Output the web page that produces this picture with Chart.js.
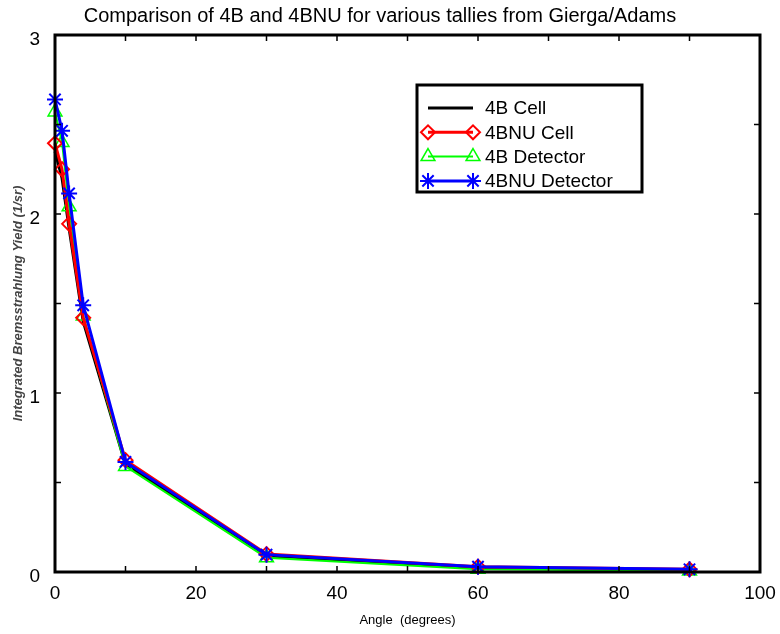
<!DOCTYPE html>
<html>
<head>
<meta charset="utf-8">
<script src="https://cdn.jsdelivr.net/npm/chart.js@4.4.1/dist/chart.umd.min.js"></script>
<style>
  html, body { margin: 0; padding: 0; background: #fff; }
  #wrap { width: 780px; height: 634px; }
</style>
</head>
<body>
<div id="wrap"><canvas id="chart" width="780" height="634"></canvas></div>
<script>
// angle (degrees) of each tally
const angles = [0, 1, 2, 4, 10, 30, 60, 90];
// integrated bremsstrahlung yield per tally
const cell4B = [2.35, 2.20, 1.92, 1.40, 0.60, 0.090, 0.025, 0.010];
const cell4BNU = [2.395, 2.25, 1.945, 1.42, 0.625, 0.100, 0.030, 0.015];
const det4B = [2.57, 2.40, 2.04, 1.43, 0.59, 0.080, 0.015, 0.005];
const det4BNU = [2.64, 2.465, 2.115, 1.49, 0.615, 0.097, 0.030, 0.015];

const seriesNames = ['4B Cell', '4BNU Cell', '4B Detector', '4BNU Detector'];
const xLabelTicks = [0, 20, 40, 60, 80, 100];
const yLabelTicks = [0, 1, 2, 3];

const FONT = "'Liberation Sans', Arial, Helvetica, sans-serif";

const pts = arr => arr.map((v, i) => ({ x: angles[i], y: v }));

// legend entries share the dataset look
const looks = [
  { color: '#000000', width: 3, style: false, r: 0, bw: 0 },
  { color: '#ff0000', width: 3, style: 'rectRot', r: 7, bw: 2 },
  { color: '#00ff00', width: 2, style: 'triangle', r: 8, bw: 1.5 },
  { color: '#0000ff', width: 3, style: 'star', r: 8, bw: 2 }
];
const values = [cell4B, cell4BNU, det4B, det4BNU];
const drawOrder = [3, 1, 2, 0]; // blue on top, black underneath

const datasets = values.map((v, i) => ({
  label: seriesNames[i],
  data: pts(v),
  borderColor: looks[i].color,
  backgroundColor: 'rgba(0,0,0,0)',
  borderWidth: looks[i].width,
  pointStyle: looks[i].style,
  pointRadius: looks[i].r,
  pointBorderWidth: looks[i].bw,
  pointBorderColor: looks[i].color,
  pointBackgroundColor: 'rgba(0,0,0,0)',
  tension: 0,
  clip: false,
  order: drawOrder[i]
}));

// box round the plot and inward tick marks on all four sides
const frameTicks = {
  id: 'frameTicks',
  afterDatasetsDraw(chart) {
    const { ctx, chartArea: a, scales: { x, y } } = chart;
    ctx.save();
    ctx.strokeStyle = '#000';
    ctx.lineWidth = 1.5;
    ctx.beginPath();
    x.ticks.forEach(t => {
      const px = x.getPixelForValue(t.value);
      ctx.moveTo(px, a.bottom); ctx.lineTo(px, a.bottom - 6);
      ctx.moveTo(px, a.top); ctx.lineTo(px, a.top + 6);
    });
    y.ticks.forEach(t => {
      const py = y.getPixelForValue(t.value);
      ctx.moveTo(a.left, py); ctx.lineTo(a.left + 6, py);
      ctx.moveTo(a.right, py); ctx.lineTo(a.right - 6, py);
    });
    ctx.stroke();
    ctx.lineWidth = 3;
    ctx.strokeRect(a.left, a.top, a.right - a.left, a.bottom - a.top);
    ctx.restore();
  }
};

// boxed legend inside the plot, top right
const boxLegend = {
  id: 'boxLegend',
  afterDraw(chart) {
    const ctx = chart.ctx;
    const bx = 417, by = 85, bw = 225, bh = 107;
    ctx.save();
    ctx.fillStyle = '#fff';
    ctx.fillRect(bx, by, bw, bh);
    ctx.strokeStyle = '#000';
    ctx.lineWidth = 3;
    ctx.strokeRect(bx, by, bw, bh);
    ctx.font = '19px ' + FONT;
    ctx.textBaseline = 'middle';
    ctx.textAlign = 'left';
    seriesNames.forEach((name, i) => {
      const ly = by + 23 + i * 24.3;
      const lk = looks[i];
      ctx.strokeStyle = lk.color;
      ctx.lineWidth = lk.width;
      ctx.beginPath();
      ctx.moveTo(428, ly); ctx.lineTo(473, ly);
      ctx.stroke();
      if (lk.style) {
        [428, 473].forEach(px => {
          ctx.lineWidth = lk.bw;
          ctx.strokeStyle = lk.color;
          ctx.fillStyle = 'rgba(0,0,0,0)';
          Chart.helpers.drawPoint(ctx, { pointStyle: lk.style, radius: lk.r, borderWidth: lk.bw, rotation: 0 }, px, ly);
        });
      }
      ctx.fillStyle = '#000';
      ctx.fillText(name, 485, ly + 1);
    });
    ctx.restore();
  }
};

new Chart(document.getElementById('chart'), {
  type: 'line',
  data: { datasets },
  options: {
    responsive: false,
    animation: false,
    devicePixelRatio: 1,
    layout: { padding: { left: 0, right: 20, top: 0, bottom: 0 } },
    plugins: {
      legend: { display: false },
      tooltip: { enabled: false },
      title: {
        display: true,
        text: 'Comparison of 4B and 4BNU for various tallies from Gierga/Adams',
        color: '#000',
        font: { family: FONT, size: 20, weight: 'normal', lineHeight: 1.2 },
        padding: { top: 4, bottom: 7 }
      }
    },
    scales: {
      x: {
        type: 'linear',
        min: 0, max: 100,
        grid: { display: false },
        border: { display: false },
        ticks: {
          stepSize: 10,
          autoSkip: false,
          maxRotation: 0,
          padding: 2,
          color: '#000',
          font: { family: FONT, size: 19 },
          callback: v => xLabelTicks.includes(v) ? String(v) : ''
        },
        title: {
          display: true,
          text: 'Angle  (degrees)',
          color: '#000',
          font: { family: FONT, size: 13 },
          padding: { top: 0, bottom: 6 }
        },
        afterFit: s => { s.height = 62; }
      },
      y: {
        type: 'linear',
        min: 0, max: 3,
        grid: { display: false },
        border: { display: false },
        ticks: {
          stepSize: 0.5,
          autoSkip: false,
          padding: 7,
          labelOffset: 5,
          color: '#000',
          font: { family: FONT, size: 19 },
          callback: v => yLabelTicks.includes(v) ? String(v) : ''
        },
        title: {
          display: true,
          text: 'Integrated Bremsstrahlung Yield (1/sr)',
          color: '#444',
          font: { family: FONT, size: 13, style: 'italic', weight: 'bold' },
          padding: { top: 11, bottom: 0 }
        },
        afterFit: s => { s.width = 55; }
      }
    }
  },
  plugins: [frameTicks, boxLegend]
});
</script>
</body>
</html>
